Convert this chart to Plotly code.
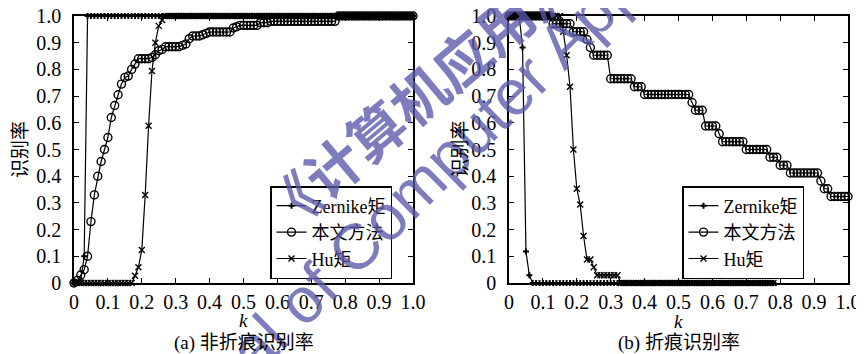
import plotly.graph_objects as go

# ---------------- data ----------------
k_a = [i / 100 for i in range(101)]          # k = 0.00 .. 1.00
k_b_short = [i / 100 for i in range(79)]     # k = 0.00 .. 0.78
tick_vals = [0, 0.1, 0.2, 0.3, 0.4, 0.5, 0.6, 0.7, 0.8, 0.9, 1.0]
tick_text = ["0", "0.1", "0.2", "0.3", "0.4", "0.5", "0.6", "0.7", "0.8", "0.9", "1.0"]
series_names = ["Zernike矩", "本文方法", "Hu矩"]

# (a) non-crease recognition rate
zernike_a = [
    0, 0, 0.01, 0.1, 1, 1, 1, 1, 1, 1,
    1, 1, 1, 1, 1, 1, 1, 1, 1, 1,
    1, 1, 1, 1, 1, 1, 1, 1, 1, 1,
    1, 1, 1, 1, 1, 1, 1, 1, 1, 1,
    1, 1, 1, 1, 1, 1, 1, 1, 1, 1,
    1, 1, 1, 1, 1, 1, 1, 1, 1, 1,
    1, 1, 1, 1, 1, 1, 1, 1, 1, 1,
    1, 1, 1, 1, 1, 1, 1, 1, 1, 1,
    1, 1, 1, 1, 1, 1, 1, 1, 1, 1,
    1, 1, 1, 1, 1, 1, 1, 1, 1, 1,
    1,
]
ours_a = [
    0, 0.01, 0.03, 0.05, 0.10, 0.23, 0.33, 0.40, 0.455, 0.50,
    0.545, 0.62, 0.665, 0.705, 0.745, 0.77, 0.775, 0.80, 0.82, 0.84,
    0.84, 0.84, 0.84, 0.845, 0.855, 0.87, 0.875, 0.885, 0.885, 0.885,
    0.885, 0.885, 0.89, 0.895, 0.915, 0.925, 0.925, 0.925, 0.93, 0.935,
    0.94, 0.94, 0.94, 0.94, 0.94, 0.94, 0.94, 0.955, 0.96, 0.965,
    0.965, 0.965, 0.965, 0.965, 0.965, 0.975, 0.975, 0.975, 0.98, 0.98,
    0.98, 0.98, 0.98, 0.98, 0.98, 0.98, 0.98, 0.98, 0.98, 0.98,
    0.98, 0.98, 0.98, 0.98, 0.98, 0.98, 0.98, 0.98, 1, 1,
    1, 1, 1, 1, 1, 1, 1, 1, 1, 1,
    1, 1, 1, 1, 1, 1, 1, 1, 1, 1,
    1,
]
hu_a = [
    0, 0, 0, 0, 0, 0, 0, 0, 0, 0,
    0, 0, 0, 0, 0, 0, 0, 0, 0.027, 0.059,
    0.124, 0.33, 0.589, 0.794, 0.90, 0.963, 0.985, 1, 1, 1,
    1, 1, 1, 1, 1, 1, 1, 1, 1, 1,
    1, 1, 1, 1, 1, 1, 1, 1, 1, 1,
    1, 1, 1, 1, 1, 1, 1, 1, 1, 1,
    1, 1, 1, 1, 1, 1, 1, 1, 1, 1,
    1, 1, 1, 1, 1, 1, 1, 1, 1, 1,
    1, 1, 1, 1, 1, 1, 1, 1, 1, 1,
    1, 1, 1, 1, 1, 1, 1, 1, 1, 1,
    1,
]

# (b) crease recognition rate
zernike_b = [
    1, 1, 1, 1, 0.882, 0.118, 0.029, 0, 0, 0,
    0, 0, 0, 0, 0, 0, 0, 0, 0, 0,
    0, 0, 0, 0, 0, 0, 0, 0, 0, 0,
    0, 0, 0, 0, 0, 0, 0, 0, 0, 0,
    0, 0, 0, 0, 0, 0, 0, 0, 0, 0,
    0, 0, 0, 0, 0, 0, 0, 0, 0, 0,
    0, 0, 0, 0, 0, 0, 0, 0, 0, 0,
    0, 0, 0, 0, 0, 0, 0, 0, 0,
]
ours_b = [
    1, 1, 1, 1, 1, 1, 1, 1, 1, 1,
    1, 1, 1, 0.971, 0.971, 0.971, 0.971, 0.971, 0.971, 0.941,
    0.941, 0.941, 0.941, 0.912, 0.882, 0.853, 0.853, 0.853, 0.853, 0.853,
    0.765, 0.765, 0.765, 0.765, 0.765, 0.765, 0.765, 0.735, 0.735, 0.735,
    0.706, 0.706, 0.706, 0.706, 0.706, 0.706, 0.706, 0.706, 0.706, 0.706,
    0.706, 0.706, 0.706, 0.706, 0.676, 0.647, 0.647, 0.647, 0.588, 0.588,
    0.588, 0.588, 0.559, 0.529, 0.529, 0.529, 0.529, 0.529, 0.529, 0.529,
    0.5, 0.5, 0.5, 0.5, 0.5, 0.5, 0.5, 0.471, 0.471, 0.471,
    0.441, 0.441, 0.441, 0.412, 0.412, 0.412, 0.412, 0.412, 0.412, 0.412,
    0.412, 0.412, 0.382, 0.353, 0.353, 0.324, 0.324, 0.324, 0.324, 0.324,
    0.324,
]
hu_b = [
    1, 1, 1, 1, 1, 1, 1, 1, 1, 1,
    1, 1, 1, 1, 1, 1, 0.941, 0.853, 0.735, 0.5,
    0.353, 0.294, 0.176, 0.088, 0.088, 0.059, 0.029, 0.029, 0.029, 0.029,
    0.029, 0.029, 0.029, 0, 0, 0, 0, 0, 0, 0,
    0, 0, 0, 0, 0, 0, 0, 0, 0, 0,
    0, 0, 0, 0, 0, 0, 0, 0, 0, 0,
    0, 0, 0, 0, 0, 0, 0, 0, 0, 0,
    0, 0, 0, 0, 0, 0, 0, 0, 0,
]

# ---------------- geometry helpers ----------------
# the page body has an 8px default margin, so the figure is 8px smaller
OFF = 8
W, H = 864 - OFF, 354 - OFF


def px(x):
    return (x - OFF) / W


def py(y):
    return 1 - (y - OFF) / H


# ---------------- styling ----------------
SERIF = "Liberation Serif, Times New Roman, Noto Sans CJK SC, serif"
CJK = "Noto Sans CJK SC, Liberation Serif, serif"
LINE = dict(color="black", width=1.2)
MARKERS = [
    dict(symbol="cross", size=5, color="black", line=dict(width=0)),
    dict(symbol="circle-open", size=8, color="black", line=dict(width=1.4, color="black")),
    dict(symbol="x-thin", size=6, color="black", line=dict(width=1.4, color="black")),
]

fig = go.Figure()

panel_a = [(k_a, zernike_a), (k_a, ours_a), (k_a, hu_a)]
panel_b = [(k_b_short, zernike_b), (k_a, ours_b), (k_b_short, hu_b)]

for (xs, ys), name, mk in zip(panel_a, series_names, MARKERS):
    fig.add_trace(go.Scatter(x=xs, y=ys, name=name, mode="lines+markers",
                             line=LINE, marker=mk, cliponaxis=False,
                             xaxis="x", yaxis="y", legend="legend"))
for (xs, ys), name, mk in zip(panel_b, series_names, MARKERS):
    fig.add_trace(go.Scatter(x=xs, y=ys, name=name, mode="lines+markers",
                             line=LINE, marker=mk, cliponaxis=False,
                             xaxis="x2", yaxis="y2", legend="legend2"))

axis_common = dict(
    range=[0, 1], tickmode="array", tickvals=tick_vals, ticktext=tick_text,
    showline=True, linecolor="black", linewidth=1.5, mirror="ticks",
    ticks="inside", ticklen=5, tickwidth=1.2, tickcolor="black",
    showgrid=False, zeroline=False, automargin=False,
    ticklabeloverflow="allow",
    tickfont=dict(family=SERIF, size=20, color="black"),
)
ydom = [py(283), py(16)]
legend_common = dict(
    xanchor="left", yanchor="top", bgcolor="rgba(255,255,255,0)",
    bordercolor="black", borderwidth=1.5,
    font=dict(family=SERIF, size=18, color="black"),
    tracegroupgap=0, itemwidth=30,
)

fig.update_layout(
    width=W, height=H,
    margin=dict(l=0, r=0, t=0, b=0, autoexpand=False),
    paper_bgcolor="white", plot_bgcolor="white",
    xaxis=dict(axis_common, domain=[px(74), px(413)], anchor="y", ticklabelstandoff=0),
    yaxis=dict(axis_common, domain=ydom, anchor="x", ticklabelstandoff=7),
    xaxis2=dict(axis_common, domain=[px(509), px(848)], anchor="y2", ticklabelstandoff=0),
    yaxis2=dict(axis_common, domain=ydom, anchor="x2", ticklabelstandoff=7),
    legend=dict(legend_common, x=px(270), y=py(186)),
    legend2=dict(legend_common, x=px(682), y=py(186)),
    showlegend=True,
)

ymid = (ydom[0] + ydom[1]) / 2
annotations = [
    # journal watermark
    dict(text="《计算机应用》", x=px(417), y=py(93), textangle=-40,
         font=dict(family="Noto Sans CJK SC", size=56, weight=700, color="rgba(88,88,170,0.78)")),
    dict(text="Journal of Computer Applications", x=px(460), y=py(144), textangle=-44.7,
         font=dict(family="Liberation Sans, Arial, sans-serif", size=64, color="rgba(88,88,170,0.78)")),
    # axis titles
    dict(text="识别率", x=px(18.5), y=ymid, textangle=-90,
         font=dict(family=CJK, size=19, color="black")),
    dict(text="识别率", x=px(458), y=ymid, textangle=-90,
         font=dict(family=CJK, size=19, color="black")),
    dict(text="<i>k</i>", x=px(243.5), y=py(320),
         font=dict(family=SERIF, size=19, color="black")),
    dict(text="<i>k</i>", x=px(678.5), y=py(321),
         font=dict(family=SERIF, size=19, color="black")),
    # panel captions
    dict(text="(a) 非折痕识别率", x=px(243.5), y=py(343),
         font=dict(family=SERIF, size=19, color="black")),
    dict(text="(b) 折痕识别率", x=px(678.5), y=py(343),
         font=dict(family=SERIF, size=19, color="black")),
]
for a in annotations:
    a.update(xref="paper", yref="paper", showarrow=False, xanchor="center", yanchor="middle")
fig.update_layout(annotations=annotations)

fig.write_html("out.html")
